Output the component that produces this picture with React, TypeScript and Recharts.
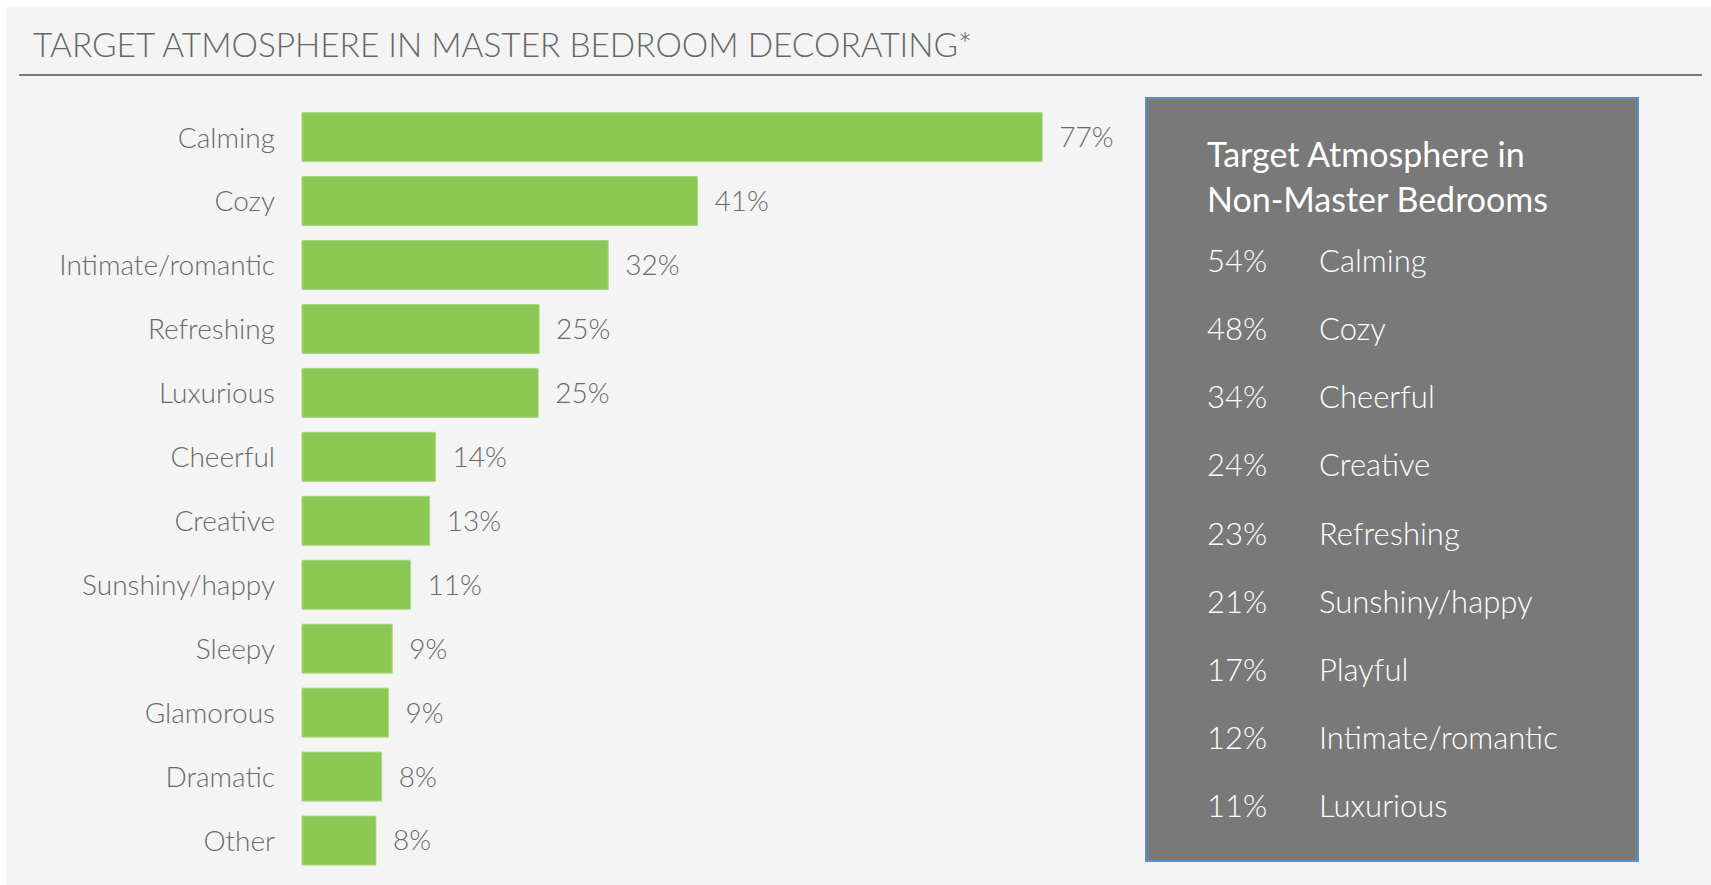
import { BarChart, Bar, XAxis, YAxis, LabelList } from "recharts";

const categories = [
  "Calming",
  "Cozy",
  "Intimate/romantic",
  "Refreshing",
  "Luxurious",
  "Cheerful",
  "Creative",
  "Sunshiny/happy",
  "Sleepy",
  "Glamorous",
  "Dramatic",
  "Other",
];
const masterValues = [77.1, 41.2, 31.9, 24.7, 24.6, 13.9, 13.3, 11.3, 9.4, 9.0, 8.3, 7.7];

const otherPercents = ["54%", "48%", "34%", "24%", "23%", "21%", "17%", "12%", "11%"];
const otherLabels = [
  "Calming",
  "Cozy",
  "Cheerful",
  "Creative",
  "Refreshing",
  "Sunshiny/happy",
  "Playful",
  "Intimate/romantic",
  "Luxurious",
];

const FONT = "Lato, 'Open Sans', sans-serif";
const GREEN = "#8bc954";
const TEXT = "#6a6a6a";

const data = categories.map((name, i) => ({ name, value: masterValues[i] }));

export default function App() {
  return (
    <div
      style={{
        position: "absolute",
        left: 0,
        top: 0,
        width: 1711,
        height: 885,
        background: "#fff",
        fontFamily: FONT,
      }}
    >
      <div style={{ position: "absolute", left: 6, top: 7, right: 0, bottom: 0, background: "#f4f4f4" }} />
      <div
        style={{
          position: "absolute",
          left: 33,
          top: 24,
          fontSize: 33.4,
          fontWeight: 300,
          color: "#666",
          whiteSpace: "nowrap",
        }}
      >
        TARGET ATMOSPHERE IN MASTER BEDROOM DECORATING*
      </div>
      <div style={{ position: "absolute", left: 19, top: 74, width: 1683, height: 2, background: "#7a7a7a" }} />

      <div style={{ position: "absolute", left: 0, top: 0 }}>
        <BarChart
          width={1262}
          height={885}
          data={data}
          layout="vertical"
          margin={{ top: 105.6, right: 0, bottom: 12, left: 0 }}
        >
          <XAxis type="number" domain={[0, 100]} hide />
          <YAxis
            type="category"
            dataKey="name"
            width={302}
            axisLine={false}
            tickLine={false}
            tickSize={0}
            tickMargin={27}
            tick={{ fill: TEXT, fontSize: 28, fontWeight: 300, fontFamily: FONT }}
          />
          <Bar dataKey="value" fill={GREEN} stroke="#a8d885" strokeWidth={1} barSize={49} isAnimationActive={false}>
            <LabelList
              dataKey="value"
              position="right"
              offset={17}
              formatter={(v: number) => `${Math.round(v)}%`}
              style={{ fill: TEXT, fontSize: 28, fontWeight: 300, fontFamily: FONT }}
            />
          </Bar>
        </BarChart>
      </div>

      <div
        style={{
          position: "absolute",
          left: 1145,
          top: 97,
          width: 1639 - 1145,
          height: 862 - 97,
          boxSizing: "border-box",
          background: "#797979",
          border: "2px solid #5b8dca",
          color: "#fff",
        }}
      >
        <div style={{ position: "absolute", left: 60, top: 32, fontSize: 34, lineHeight: "45px", fontWeight: 400, whiteSpace: "nowrap" }}>
          Target Atmosphere in
          <br />
          Non-Master Bedrooms
        </div>
        {otherPercents.map((p, i) => (
          <div
            key={p + i}
            style={{
              position: "absolute",
              left: 60,
              top: 141 + i * 68.15,
              height: 40,
              lineHeight: "40px",
              fontSize: 31,
              fontWeight: 300,
              whiteSpace: "nowrap",
            }}
          >
            <span style={{ display: "inline-block", width: 112 }}>{p}</span>
            <span>{otherLabels[i]}</span>
          </div>
        ))}
      </div>
    </div>
  );
}
